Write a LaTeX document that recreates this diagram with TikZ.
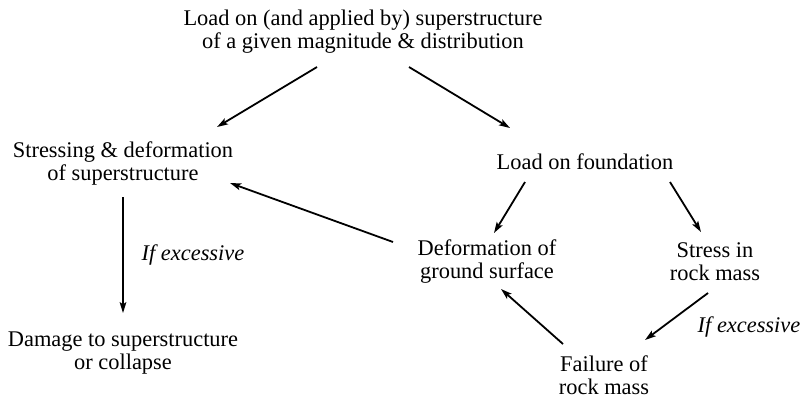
\documentclass[tikz,border=0pt]{standalone}
\usepackage{fontspec}
\setmainfont{Liberation Serif}
\usepackage{tikz}
\usetikzlibrary{positioning,arrows.meta}
\tikzset{
  plainbox/.style={align=center, inner sep=0pt, text=black},
  condlabel/.style={inner sep=0pt, font=\fontsize{11.2pt}{11.5pt}\selectfont\itshape},
  flowarr/.style={-{Stealth[length=5.5pt,width=3.4pt,inset=1.2pt]}, line width=0.9pt, draw=black}
}

\begin{document}
\begin{tikzpicture}[x=0.5pt, y=-0.5pt, font=\fontsize{11.2pt}{11.5pt}\selectfont]
      \useasboundingbox (0,0) rectangle (802,397);
      \node[plainbox] (load) at (363,31.5) {Load on (and applied by) superstructure\\of a given magnitude \& distribution};
      \node[plainbox] (stressing) at (123,163.5) {Stressing \& deformation\\of superstructure};
      \node[plainbox] (found) at (585,162) {Load on foundation};
      \node[plainbox] (deform) at (487,261.5) {Deformation of\\ground surface};
      \node[plainbox] (rockstress) at (715,261.5) {Stress in\\rock mass};
      \node[plainbox] (damage) at (123,353) {Damage to superstructure\\or collapse};
      \node[plainbox] (failure) at (604,375.5) {Failure of\\rock mass};
      \draw[flowarr] ([shift={(-46,35.5)}]load.center) -- ([shift={(94,-36.5)}]stressing.center);
      \draw[flowarr] ([shift={(46,35.5)}]load.center) -- ([shift={(-75,-34)}]found.center);
      \draw[flowarr] ([shift={(-94,-19.5)}]deform.center) -- ([shift={(107,19.5)}]stressing.center);
      \draw[flowarr, line width=0.7pt] ([shift={(0,33.5)}]stressing.center) -- node[condlabel, right=9pt] (excl) {If excessive} ([shift={(0,-40)}]damage.center);
      \draw[flowarr] ([shift={(-60,20)}]found.center) -- ([shift={(7,-28.5)}]deform.center);
      \draw[flowarr] ([shift={(85,20)}]found.center) -- ([shift={(-14,-29.5)}]rockstress.center);
      \draw[flowarr] ([shift={(-7,31.5)}]rockstress.center) -- ([shift={(41,-35.5)}]failure.center);
      \draw[flowarr] ([shift={(-41,-31.5)}]failure.center) -- ([shift={(14,27.5)}]deform.center);
      \node[condlabel] (excr) at (749,327) {If excessive};
    \end{tikzpicture}
\end{document}
